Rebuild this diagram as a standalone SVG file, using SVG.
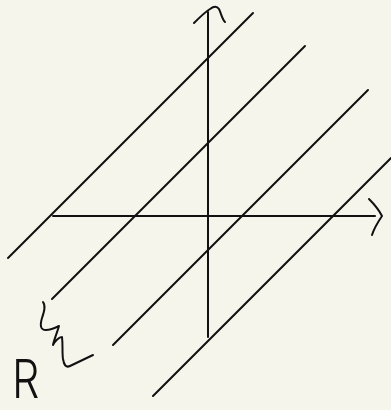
<svg xmlns="http://www.w3.org/2000/svg" width="391" height="410" viewBox="0 0 391 410">
<style>
.s{fill:none;stroke:#111;stroke-width:2;stroke-linecap:round;stroke-linejoin:round}
.t{font-family:Inter,Roboto,"Liberation Sans",sans-serif;font-weight:300;fill:#111}
</style>
<rect width="391" height="410" fill="#f6f5eb"/>
<g id="axes">
<path class="s" d="M208,337 L208,12"/>
<path class="s" d="M194,23 C200,17 205,12 210,9 C214,6 217,6 219,9 C221,13 222,19 225,22"/>
<path class="s" d="M53,216 L375,216"/>
<path class="s" d="M369,199 C374,204 379,210 382,216 C378,222 374,228 372,235"/>
</g>
<g id="lines">
<path class="s" d="M8,258 L253,13"/>
<path class="s" d="M52,299 L305,46"/>
<path class="s" d="M113,345 L368,90"/>
<path class="s" d="M153,396 L391,158"/>
</g>
<g id="label">
<path class="s" d="M43,302 C46,306 44,312 42,318 C40,325 40,330 46,330 C50,330 55,328 59,326 C57,333 54,340 53,345 C55,341 59,337 62,337 C63,345 62,352 63,359 C64,365 66,368 70,366 L93,355"/>
<text class="t" x="12" y="398" font-size="54" transform="translate(12,0) scale(0.8,1) translate(-12,0)">R</text>
</g>
</svg>
